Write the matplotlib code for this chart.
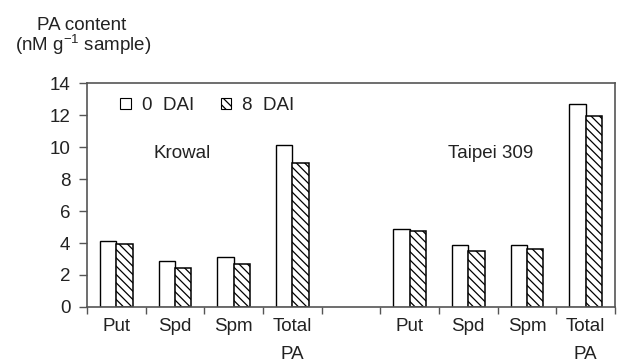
import numpy as np
import matplotlib
matplotlib.use("Agg")
from matplotlib import pyplot as plt
from matplotlib.patches import Patch

# data
categories = ["Put", "Spd", "Spm", "Total\nPA", "", "Put", "Spd", "Spm", "Total\nPA"]
dai0 = [4.12, 2.9, 3.13, 10.13, np.nan, 4.9, 3.9, 3.87, 12.7]
dai8 = [3.91, 2.43, 2.67, 9.0, np.nan, 4.73, 3.51, 3.6, 11.95]
yticks = [0, 2, 4, 6, 8, 10, 12, 14]

plt.rcParams['font.family'] = ['Liberation Sans', 'DejaVu Sans']
plt.rcParams['mathtext.fontset'] = 'custom'
plt.rcParams['mathtext.rm'] = 'Liberation Sans'
plt.rcParams['hatch.linewidth'] = 0.9
fs = 13.5
text_col = '#222222'
spine_col = '#555555'
hatch = '\\\\\\\\'

fig = plt.figure(figsize=(6.18, 3.61), dpi=100)
ax = fig.add_axes([0.1408, 0.1496, 0.8542, 0.6204])

x = np.arange(len(categories))
w = 0.28
ax.bar(x - w / 2, dai0, width=w, color='white', edgecolor='black', linewidth=1.0)
ax.bar(x + w / 2, dai8, width=w, color='white', edgecolor='black', linewidth=1.1, hatch=hatch)

ax.set_xlim(-0.5, len(categories) - 0.5)
ax.set_ylim(0, 14)
ax.set_yticks(yticks)
ax.tick_params(axis='y', direction='out', length=6, width=1, colors=spine_col,
               labelcolor=text_col, labelsize=fs, pad=6)

ax.set_xticks(x)
ax.set_xticklabels(categories, fontsize=fs, color=text_col, linespacing=1.8, va='top')
ax.tick_params(axis='x', which='major', length=0, pad=8)
ax.set_xticks(np.arange(-0.5, len(categories)), minor=True)
ax.tick_params(axis='x', which='minor', direction='out', length=5, width=1, colors=spine_col)

for s in ax.spines.values():
    s.set_color(spine_col)
    s.set_linewidth(1.2)

handles = [Patch(facecolor='white', edgecolor='black', linewidth=0.8, label='0  DAI'),
           Patch(facecolor='white', edgecolor='black', linewidth=0.8, hatch=hatch, label='8  DAI')]
leg = ax.legend(handles=handles, ncol=2, frameon=False, loc='upper left',
                bbox_to_anchor=(0.035, 1.005), handlelength=0.55, handleheight=0.55,
                handletextpad=0.6, columnspacing=1.4, fontsize=fs, borderpad=0.3)
for t in leg.get_texts():
    t.set_color(text_col)

ax.text(1.12, 9.6, "Krowal", fontsize=fs, color=text_col, ha='center', va='center')
ax.text(6.38, 9.6, "Taipei 309", fontsize=fs, color=text_col, ha='center', va='center')

fig.text(37 / 618, 1 - 30 / 361, "PA content", fontsize=fs, color=text_col,
         ha='left', va='baseline')
fig.text(15 / 618, 1 - 51 / 361, "(nM g$\\mathregular{^{-1}}$ sample)", fontsize=fs,
         color=text_col, ha='left', va='baseline')

fig.savefig("out.png", dpi=100)
